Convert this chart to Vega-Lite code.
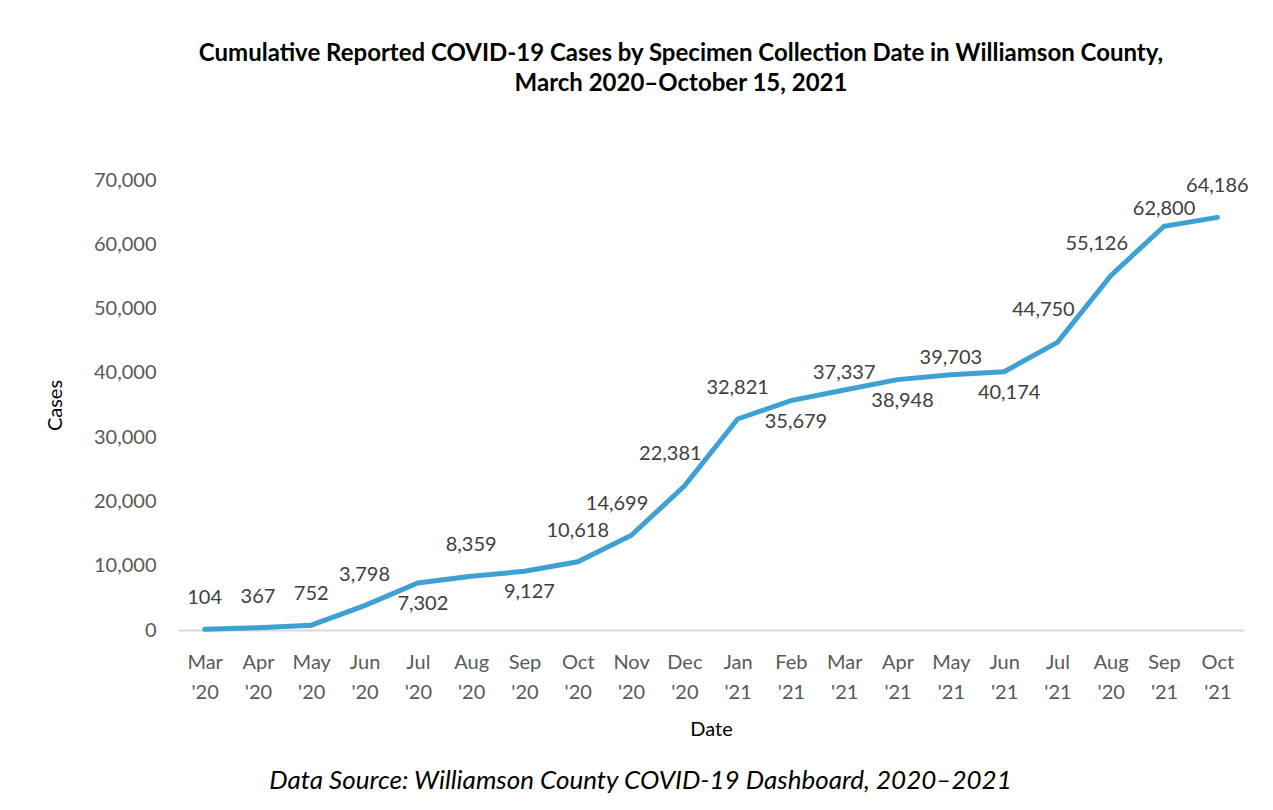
{
  "$schema": "https://vega.github.io/schema/vega-lite/v6.json",
  "width": 1066,
  "height": 450,
  "autosize": {"type": "none"},
  "padding": {"left": 178, "top": 180, "right": 29, "bottom": 180},
  "background": "white",
  "config": {"view": {"stroke": null}},
  "title": {
    "text": ["Cumulative Reported COVID-19 Cases by Specimen Collection Date in Williamson County,", "March 2020–October 15, 2021"],
    "font": "Lato",
    "fontSize": 24,
    "fontWeight": "bold",
    "color": "#000000",
    "lineHeight": 30,
    "anchor": "middle",
    "dx": -30,
    "offset": 74
  },
  "data": {
    "values": [
      {"month": "Mar '20", "cases": 104, "pos": "above"},
      {"month": "Apr '20", "cases": 367, "pos": "above"},
      {"month": "May '20", "cases": 752, "pos": "above"},
      {"month": "Jun '20", "cases": 3798, "pos": "above"},
      {"month": "Jul '20", "cases": 7302, "pos": "below"},
      {"month": "Aug '20", "cases": 8359, "pos": "above"},
      {"month": "Sep '20", "cases": 9127, "pos": "below"},
      {"month": "Oct '20", "cases": 10618, "pos": "above"},
      {"month": "Nov '20", "cases": 14699, "pos": "aboveLeft"},
      {"month": "Dec '20", "cases": 22381, "pos": "aboveLeft"},
      {"month": "Jan '21", "cases": 32821, "pos": "above"},
      {"month": "Feb '21", "cases": 35679, "pos": "below"},
      {"month": "Mar '21", "cases": 37337, "pos": "nearAbove"},
      {"month": "Apr '21", "cases": 38948, "pos": "below"},
      {"month": "May '21", "cases": 39703, "pos": "nearAbove"},
      {"month": "Jun '21", "cases": 40174, "pos": "below"},
      {"month": "Jul '21", "cases": 44750, "pos": "aboveLeft"},
      {"month": "Aug '20 ", "cases": 55126, "pos": "aboveLeft"},
      {"month": "Sep '21", "cases": 62800, "pos": "nearAbove"},
      {"month": "Oct '21", "cases": 64186, "pos": "above"}
    ]
  },
  "encoding": {
    "y": {
      "field": "cases",
      "type": "quantitative",
      "scale": {"domain": [0, 70000], "nice": false},
      "axis": {
        "values": [0, 10000, 20000, 30000, 40000, 50000, 60000, 70000],
        "labelExpr": "format(datum.value, ',.0f')",
        "grid": false,
        "domain": false,
        "ticks": false,
        "tickSize": 0,
        "labelPadding": 22,
        "labelFont": "Lato",
        "labelFontSize": 20,
        "labelColor": "#595959",
        "title": "Cases",
        "titleFont": "Lato",
        "titleFontSize": 20,
        "titleFontWeight": "normal",
        "titleColor": "#000000",
        "titleAngle": -90,
        "titleX": -123,
        "titleY": 225,
        "titleAlign": "center",
        "titleBaseline": "middle"
      }
    }
  },
  "layer": [
    {
      "mark": {"type": "line", "color": "#3FA1D3", "strokeWidth": 5, "strokeCap": "round"},
      "encoding": {
        "x": {
          "field": "month",
          "type": "nominal",
          "sort": null,
          "scale": {"type": "point", "padding": 0.5},
          "axis": {
            "orient": "bottom",
            "labelExpr": "split(trim(datum.label), ' ')",
            "labelAngle": 0,
            "labelFont": "Lato",
            "labelFontSize": 20,
            "labelColor": "#595959",
            "labelLineHeight": 30,
            "labelPadding": 22,
            "ticks": false,
            "tickSize": 0,
            "domain": true,
            "domainColor": "#D9D9D9",
            "domainWidth": 2,
            "grid": false,
            "title": "Date",
            "titleFont": "Lato",
            "titleFontSize": 20,
            "titleFontWeight": "normal",
            "titleColor": "#000000",
            "titleY": 99,
            "titleBaseline": "middle"
          }
        }
      }
    },
    {
      "transform": [{"filter": "datum.pos == 'above'"}],
      "mark": {"type": "text", "font": "Lato", "fontSize": 20, "color": "#404040", "align": "center", "baseline": "middle", "dy": -31},
      "encoding": {
        "x": {
          "field": "month",
          "type": "nominal",
          "sort": null,
          "axis": {
            "orient": "bottom",
            "labels": false,
            "ticks": false,
            "domain": false,
            "grid": false,
            "title": "Data Source: Williamson County COVID-19 Dashboard, 2020–2021",
            "titleFont": "Lato",
            "titleFontSize": 26,
            "titleFontStyle": "italic",
            "titleFontWeight": "normal",
            "titleColor": "#000000",
            "titleX": 462,
            "titleY": 150,
            "titleAlign": "center",
            "titleBaseline": "middle"
          }
        },
        "text": {"field": "cases", "type": "quantitative", "format": ","}
      }
    },
    {
      "transform": [{"filter": "datum.pos == 'below'"}],
      "mark": {"type": "text", "font": "Lato", "fontSize": 20, "color": "#404040", "align": "center", "baseline": "middle", "dx": 5, "dy": 21},
      "encoding": {
        "x": {"field": "month", "type": "nominal", "sort": null, "axis": null},
        "text": {"field": "cases", "type": "quantitative", "format": ","}
      }
    },
    {
      "transform": [{"filter": "datum.pos == 'nearAbove'"}],
      "mark": {"type": "text", "font": "Lato", "fontSize": 20, "color": "#404040", "align": "center", "baseline": "middle", "dx": 0, "dy": -17},
      "encoding": {
        "x": {"field": "month", "type": "nominal", "sort": null, "axis": null},
        "text": {"field": "cases", "type": "quantitative", "format": ","}
      }
    },
    {
      "transform": [{"filter": "datum.pos == 'aboveLeft'"}],
      "mark": {"type": "text", "font": "Lato", "fontSize": 20, "color": "#404040", "align": "center", "baseline": "middle", "dx": -14, "dy": -32},
      "encoding": {
        "x": {"field": "month", "type": "nominal", "sort": null, "axis": null},
        "text": {"field": "cases", "type": "quantitative", "format": ","}
      }
    }
  ],
  "resolve": {"axis": {"x": "independent"}}
}
